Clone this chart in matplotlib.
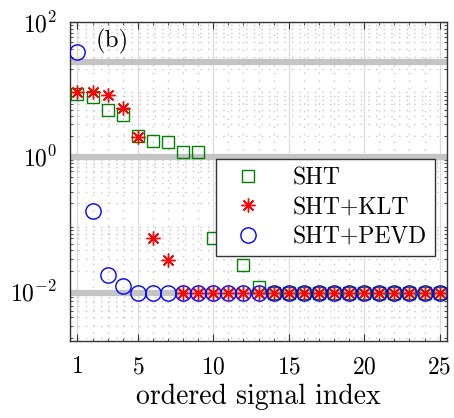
import numpy as np
import matplotlib
matplotlib.use('Agg')
import matplotlib.pyplot as plt
from matplotlib.ticker import LogLocator, NullFormatter, FixedLocator

plt.rcParams['font.family'] = 'cmr10'
plt.rcParams['mathtext.fontset'] = 'cm'
plt.rcParams['axes.formatter.use_mathtext'] = True

# ordered signal index
idx = np.arange(1, 26)

# values
sht = [8.5, 7.6, 4.9, 4.2, 2.0, 1.7, 1.66, 1.18, 1.17, 0.06, 0.045, 0.024, 0.0115,
       0.0091, 0.0091, 0.0091, 0.0091, 0.0091, 0.0091, 0.0091, 0.0091, 0.0091,
       0.0091, 0.0091, 0.0091]
sht_klt = [9.1, 9.0, 8.3, 5.2, 1.95, 0.06, 0.029, 0.0091, 0.0091, 0.0091, 0.0091,
           0.0091, 0.0091, 0.0091, 0.0091, 0.0091, 0.0091, 0.0091, 0.0091, 0.0091,
           0.0091, 0.0091, 0.0091, 0.0091, 0.0091]
sht_pevd = [36, 0.156, 0.017, 0.0119, 0.0094, 0.0093, 0.0092, 0.0091, 0.0091,
            0.0091, 0.0091, 0.0091, 0.0091, 0.0091, 0.0091, 0.0091, 0.0091,
            0.0091, 0.0091, 0.0091, 0.0091, 0.0091, 0.0091, 0.0091, 0.0091]
ref_levels = [25.5, 0.98, 0.0091]

fig = plt.figure(figsize=(4.54, 4.18), dpi=100)
ax = fig.add_axes([0.154, 0.184, 0.831, 0.763])

for lev in ref_levels:
    ax.axhline(lev, color='#c4c4c4', lw=4.5, zorder=1)

ax.plot(idx, sht, ls='none', marker='s', ms=8, mfc='none', mec='#008000',
        mew=1.0, label='SHT', zorder=3)
ax.plot(idx, sht_klt, ls='none', marker=(8, 2, 0), ms=10, mec='#ff0000',
        mew=1.0, label='SHT+KLT', zorder=4)
ax.plot(idx, sht_pevd, ls='none', marker='o', ms=11, mfc='none', mec='#0000ff',
        mew=1.0, label='SHT+PEVD', zorder=5)

ax.set_yscale('log')
ax.set_xlim(0.5, 25.5)
ax.set_ylim(10 ** -2.75, 100)
ax.set_xticks([1, 5, 10, 15, 20, 25])
ax.xaxis.set_minor_locator(FixedLocator(np.arange(1, 26)))
ax.set_yticks([1e-2, 1e0, 1e2])
ax.yaxis.set_minor_locator(LogLocator(base=10, subs=np.arange(2, 10), numticks=20))
ax.yaxis.set_minor_formatter(NullFormatter())

ax.grid(True, which='major', color='#dcdcdc', lw=0.9, ls='-', zorder=0)
ax.grid(True, which='minor', color='#c8c8c8', lw=1.0, ls=(0, (1, 4.5)), zorder=0)
ax.set_axisbelow(True)

ax.tick_params(which='both', direction='in', top=True, right=True, labelsize=17,
               color='#333333')
ax.tick_params(axis='x', which='minor', length=0)
ax.tick_params(which='major', length=5)
ax.tick_params(axis='x', which='major', pad=11)
ax.tick_params(axis='y', which='major', pad=9)
ax.tick_params(which='minor', length=2.5)
for s in ax.spines.values():
    s.set_color('#333333')
    s.set_linewidth(1.0)

ax.set_xlabel('ordered signal index', fontsize=20, labelpad=4)
ax.text(2.2, 52, '(b)', fontsize=18, va='center', ha='left')

leg = ax.legend(loc='upper right', bbox_to_anchor=(0.968, 0.571), borderaxespad=0,
                fontsize=17, fancybox=False, framealpha=1, edgecolor='#333333',
                handlelength=2.0, handletextpad=0.9, labelspacing=0.3,
                borderpad=0.35)
leg.get_frame().set_linewidth(1.0)
leg.set_zorder(10)

fig.savefig('out.png', dpi=100)
